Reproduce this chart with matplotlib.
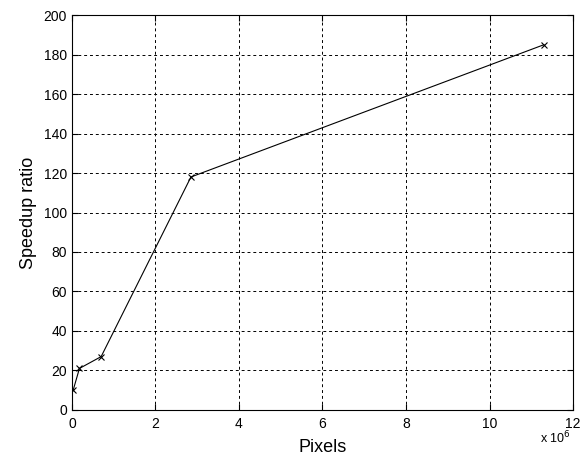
import matplotlib.pyplot as plt
from matplotlib.ticker import FuncFormatter

pixels = [0.03e6, 0.18e6, 0.7e6, 2.85e6, 11.3e6]
speedup = [10, 21, 27, 118, 185]
x_ticks = [0, 2e6, 4e6, 6e6, 8e6, 10e6, 12e6]
y_ticks = [0, 20, 40, 60, 80, 100, 120, 140, 160, 180, 200]

plt.rcParams['font.family'] = ['Liberation Sans', 'DejaVu Sans']

fig = plt.figure(figsize=(5.8, 4.59), dpi=100)
ax = fig.add_axes([0.124, 0.107, 0.864, 0.860])
ax.plot(pixels, speedup, color='black', linewidth=0.8, marker='x', markersize=4, markeredgewidth=0.8)
ax.set_xlim(0, 12e6)
ax.set_ylim(0, 200)
ax.set_xticks(x_ticks)
ax.set_yticks(y_ticks)
ax.xaxis.set_major_formatter(FuncFormatter(lambda v, p: f"{v / 1e6:g}"))
ax.grid(True, color='black', linestyle=(0, (3, 3)), linewidth=0.7)
ax.tick_params(direction='in', length=4, labelsize=10, colors='black', top=True, right=True)
ax.tick_params(axis='x', pad=5)
ax.tick_params(labeltop=False, labelright=False)
for s in ax.spines.values():
    s.set_linewidth(0.8)
ax.set_xlabel('Pixels', fontsize=13, labelpad=6)
ax.set_ylabel('Speedup ratio', fontsize=13, labelpad=5)
fig.text(0.958, 0.045, r'x 10$^6$', fontsize=9, ha='center', va='center')

fig.savefig('out.png', dpi=100)
